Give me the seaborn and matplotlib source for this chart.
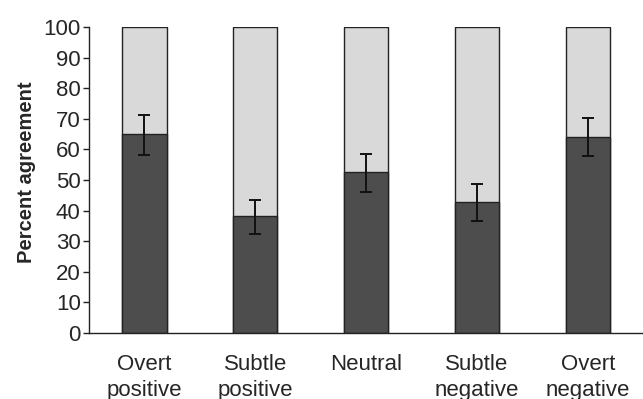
import matplotlib
matplotlib.use("Agg")
import matplotlib.pyplot as plt
import seaborn as sns
import pandas as pd
import numpy as np

categories = ["Overt\npositive", "Subtle\npositive", "Neutral", "Subtle\nnegative", "Overt\nnegative"]
agreement = [65.0, 38.2, 52.5, 42.7, 64.0]
err_low = [6.8, 5.8, 6.5, 6.0, 6.2]
err_high = [6.3, 5.4, 5.9, 6.0, 6.4]
total = [100, 100, 100, 100, 100]
yticks = list(range(0, 101, 10))

sns.set_theme(style="white")
plt.rcParams['font.family'] = ['Liberation Sans', 'DejaVu Sans']

df = pd.DataFrame({"cat": categories, "agree": agreement, "total": total})

fig = plt.figure(figsize=(6.43, 3.99), dpi=100)
ax = fig.add_axes([0.1384, 0.1654, 0.862, 0.7669])

sns.barplot(data=df, x="cat", y="total", color="#d9d9d9", saturation=1,
            width=0.4, edgecolor="#222222", linewidth=1.0, ax=ax)
sns.barplot(data=df, x="cat", y="agree", color="#4d4d4d", saturation=1,
            width=0.4, edgecolor="#222222", linewidth=1.0, ax=ax)

xs = np.arange(len(categories))
ax.errorbar(xs, agreement, yerr=[err_low, err_high], fmt="none", ecolor="#111111",
            elinewidth=1.4, capsize=4, capthick=1.4, zorder=5)

ax.set_xlim(-0.5, 4.5)
ax.set_ylim(0, 100)
ax.set_yticks(yticks)
ax.set_yticklabels([str(t) for t in yticks], fontsize=16)
ax.set_xlabel("")
ax.set_ylabel("Percent agreement", fontsize=14.5, fontweight="bold")
ax.yaxis.set_label_coords(-0.095, 0.525)
for lbl in ax.get_xticklabels():
    lbl.set_fontsize(16)
    lbl.set_linespacing(1.3)
ax.tick_params(axis="x", length=0, pad=15)
ax.tick_params(axis="y", length=4, width=1, color="#222222", pad=2, left=True, direction="out")

for s in ["top", "right"]:
    ax.spines[s].set_visible(False)
for s in ["left", "bottom"]:
    ax.spines[s].set_color("#222222")
    ax.spines[s].set_linewidth(1.0)

fig.savefig("out.png", dpi=100)
